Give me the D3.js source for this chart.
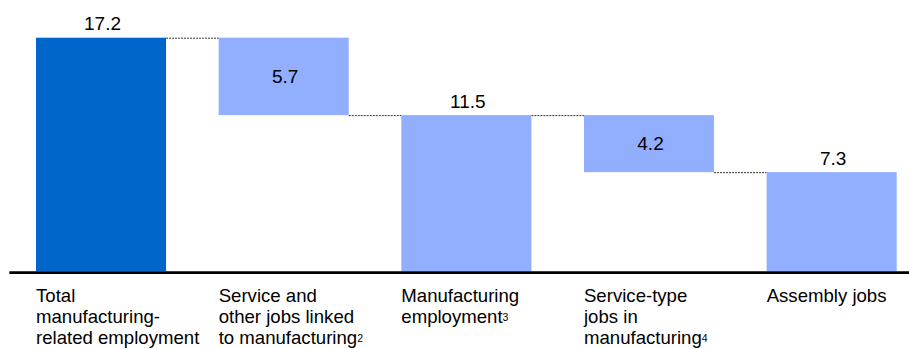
<!DOCTYPE html>
<html>
<head>
<meta charset="utf-8">
<script src="https://cdn.jsdelivr.net/npm/d3@7"></script>
<style>
  html, body { margin: 0; padding: 0; background: #fff; }
  svg { display: block; }
  text { font-family: "Liberation Sans", Arial, sans-serif; fill: #000; }
</style>
</head>
<body>
<svg id="chart" width="909" height="349"></svg>
<script>
// Waterfall: total employment split into its components (millions)
const categories = ["total", "linked", "manufacturing", "serviceType", "assembly"];
const values = [17.2, 5.7, 11.5, 4.2, 7.3];
const kinds = ["total", "delta", "total", "delta", "total"];
const labelLines = [
  ["Total", "manufacturing-", "related employment"],
  ["Service and", "other jobs linked", "to manufacturing"],
  ["Manufacturing", "employment"],
  ["Service-type", "jobs in", "manufacturing"],
  ["Assembly jobs"]
];
const footnotes = ["", "2", "3", "4", ""];
const barColors = ["#0066CC", "#91AEFF", "#91AEFF", "#91AEFF", "#91AEFF"];

// Build the floating segments: totals sit on zero, deltas hang from the previous level
let level = 0;
const bars = categories.map((c, i) => {
  let y0, y1;
  if (kinds[i] === "total") { y0 = 0; y1 = values[i]; level = values[i]; }
  else { y1 = level; y0 = level - values[i]; level = y0; }
  return { key: c, value: values[i], kind: kinds[i], y0, y1, i };
});

const svg = d3.select("#chart");

const x = d3.scaleBand()
  .domain(categories)
  .range([36, 896.7])
  .paddingInner(0.288)
  .paddingOuter(0);

const y = d3.scaleLinear()
  .domain([0, 17.2])
  .range([271.3, 37.7]);

// Dashed connectors between consecutive bars
const connectors = [];
for (let i = 0; i < bars.length - 1; i++) {
  const a = bars[i], b = bars[i + 1];
  const lvl = b.kind === "delta" ? b.y1 : (a.kind === "delta" ? a.y0 : a.y1);
  connectors.push({ x1: x(a.key) + x.bandwidth(), x2: x(b.key), v: lvl });
}
svg.append("g").selectAll("line")
  .data(connectors)
  .join("line")
  .attr("x1", d => d.x1)
  .attr("x2", d => d.x2)
  .attr("y1", d => y(d.v) + 0.5)
  .attr("y2", d => y(d.v) + 0.5)
  .attr("stroke", "#333")
  .attr("stroke-width", 1)
  .attr("stroke-dasharray", "2,1");

// Bars
svg.append("g").selectAll("rect")
  .data(bars)
  .join("rect")
  .attr("x", d => x(d.key))
  .attr("width", x.bandwidth())
  .attr("y", d => y(d.y1))
  .attr("height", d => y(d.y0) - y(d.y1))
  .attr("fill", d => barColors[d.i]);

// Value labels: above totals, centred inside deltas
svg.append("g").selectAll("text")
  .data(bars)
  .join("text")
  .attr("x", d => x(d.key) + x.bandwidth() / 2 + 1.5)
  .attr("y", d => d.kind === "total" ? y(d.y1) - 7.5 : (y(d.y0) + y(d.y1)) / 2 + 6.5)
  .attr("text-anchor", "middle")
  .attr("font-size", 19)
  .text(d => d.value.toFixed(1));

// Baseline
svg.append("line")
  .attr("x1", 9.3).attr("x2", 909)
  .attr("y1", y(0) + 1.3).attr("y2", y(0) + 1.3)
  .attr("stroke", "#000")
  .attr("stroke-width", 2.6);

// Category labels, left-aligned under each bar, with footnote markers
const lab = svg.append("g").selectAll("text")
  .data(bars)
  .join("text")
  .attr("x", d => x(d.key))
  .attr("y", 302.3)
  .attr("font-size", 18.6);

lab.each(function(d) {
  const t = d3.select(this);
  const lines = labelLines[d.i];
  lines.forEach((ln, k) => {
    t.append("tspan")
      .attr("x", x(d.key))
      .attr("y", 302.3 + k * 21)
      .text(ln);
  });
  if (footnotes[d.i]) {
    t.append("tspan")
      .attr("font-size", 10.5)
      .attr("dy", -2.5)
      .text(footnotes[d.i]);
  }
});
</script>
</body>
</html>
